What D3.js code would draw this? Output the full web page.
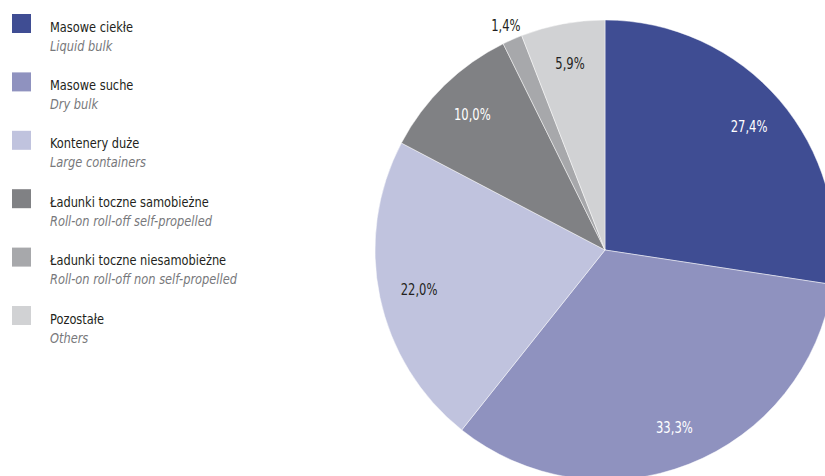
<!DOCTYPE html>
<html>
<head>
<meta charset="utf-8">
<script src="https://cdn.jsdelivr.net/npm/d3@7"></script>
<style>
  html, body { margin: 0; padding: 0; background: #fff; }
  svg { display: block; font-family: "Liberation Sans Narrow", "DejaVu Sans Condensed", sans-serif; }
</style>
</head>
<body>
<svg id="chart" width="825" height="476"></svg>
<script>
// Cargo structure by type (share of total, %)
const categoriesPl = ["Masowe ciekłe", "Masowe suche", "Kontenery duże",
  "Ładunki toczne samobieżne", "Ładunki toczne niesamobieżne", "Pozostałe"];
const categoriesEn = ["Liquid bulk", "Dry bulk", "Large containers",
  "Roll-on roll-off self-propelled", "Roll-on roll-off non self-propelled", "Others"];
const shares = [27.4, 33.3, 22.0, 10.0, 1.4, 5.9];
const colors = ["#3f4d93", "#8f92bf", "#c0c3de", "#808184", "#a7a8ab", "#d1d2d4"];
const labelColors = ["#ffffff", "#ffffff", "#231f20", "#ffffff", "#231f20", "#231f20"];

const svg = d3.select("#chart");
const fmt = v => d3.format(".1f")(v).replace(".", ",") + "%";

// condensed look: squeeze the text horizontally
const LEGEND_SX = 0.875, VALUE_SX = 0.78;

// ---- Pie ----
const cx = 605, cy = 250, radius = 230;
const pie = d3.pie().sort(null).value(d => d.value);
const data = shares.map((v, i) => ({ value: v, i }));
const arcs = pie(data);

const arc = d3.arc().innerRadius(0).outerRadius(radius);
const labelArc = d3.arc().innerRadius(190).outerRadius(190);
const outerLabelArc = d3.arc().innerRadius(246).outerRadius(246);

const g = svg.append("g").attr("transform", `translate(${cx},${cy})`);

g.selectAll("path.slice")
  .data(arcs)
  .join("path")
  .attr("class", "slice")
  .attr("d", arc)
  .attr("fill", d => colors[d.data.i])
  .attr("stroke", "#ffffff")
  .attr("stroke-width", 0.6)
  .attr("stroke-opacity", 0.8);

g.selectAll("text.val")
  .data(arcs)
  .join("text")
  .attr("class", "val")
  .attr("transform", d => {
    const small = d.data.value < 2;
    const p = (small ? outerLabelArc : labelArc).centroid(d);
    return `translate(${p[0]},${p[1]}) scale(${VALUE_SX},1)`;
  })
  .attr("text-anchor", "middle")
  .attr("dy", "0.36em")
  .attr("font-size", 16.5)
  .attr("fill", d => labelColors[d.data.i])
  .text(d => fmt(d.data.value));

// ---- Legend ----
const legendY = d3.scalePoint().domain(d3.range(shares.length)).range([14, 306]);
const lg = svg.append("g");
const item = lg.selectAll("g.item")
  .data(d3.range(shares.length))
  .join("g")
  .attr("class", "item")
  .attr("transform", i => `translate(0,${legendY(i)})`);

item.append("rect")
  .attr("x", 12).attr("y", 0)
  .attr("width", 19).attr("height", 19)
  .attr("fill", i => colors[i]);

item.append("text")
  .attr("transform", `translate(50,17.5) scale(${LEGEND_SX},1)`)
  .attr("font-size", 14.5)
  .attr("fill", "#231f20")
  .text(i => categoriesPl[i]);

item.append("text")
  .attr("transform", `translate(50,36.5) scale(${LEGEND_SX},1)`)
  .attr("font-size", 14.5)
  .attr("font-style", "italic")
  .attr("fill", "#77787b")
  .text(i => categoriesEn[i]);
</script>
</body>
</html>
